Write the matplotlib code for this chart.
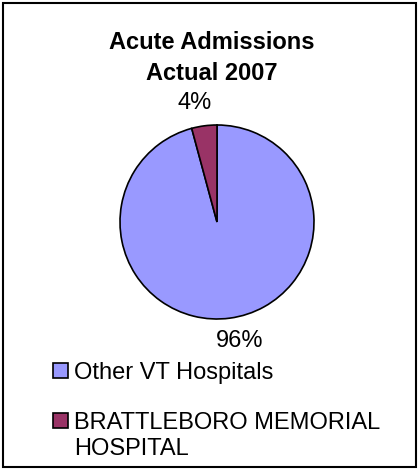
import matplotlib
matplotlib.use("Agg")
from matplotlib import pyplot as plt
from matplotlib.patches import Rectangle

plt.rcParams['font.family'] = ['Liberation Sans', 'DejaVu Sans']

# data
hospitals = ["Other VT Hospitals", "BRATTLEBORO MEMORIAL\nHOSPITAL"]
shares = [95.8, 4.2]
pct_labels = ["96%", "4%"]
colors = ["#9999ff", "#993366"]
title = "Acute Admissions\nActual 2007"

W, H = 419, 470
fig = plt.figure(figsize=(W / 100, H / 100), dpi=100)

# outer frame
fig.patches.append(Rectangle((3 / W, 3 / H), 413 / W, 464 / H, transform=fig.transFigure,
                             fill=False, edgecolor="black", linewidth=1.5))

# title, one text per line, baselines in pixels from top
for i, line in enumerate(title.split("\n")):
    fig.text(212 / W, 1 - (49 + 31 * i) / H, line, ha="center", va="baseline",
             fontsize=17, fontweight="bold")

cx, cy, r = 217, 222, 97
ax = fig.add_axes([(cx - r) / W, (H - cy - r) / H, 2 * r / W, 2 * r / H])
wedges, texts = ax.pie(shares, colors=colors, startangle=90, counterclock=False,
                       labels=pct_labels, labeldistance=1.24,
                       wedgeprops=dict(edgecolor="black", linewidth=1.2),
                       textprops=dict(fontsize=17))
for t in texts:
    x, y = t.get_position()
    t.set_position((x + (0.07 if x > 0 else -0.07), y))
    t.set_horizontalalignment("center")
    t.set_verticalalignment("center")
ax.set_xlim(-1, 1)
ax.set_ylim(-1, 1)
ax.set_aspect("equal")
ax.axis("off")

# legend drawn by hand, Excel style: marker beside the first line
row_base = [379, 429]
for w, label, base in zip(wedges, hospitals, row_base):
    fig.patches.append(Rectangle((53 / W, 1 - (base - 1) / H), 15 / W, 15 / H,
                                 transform=fig.transFigure, facecolor=w.get_facecolor(),
                                 edgecolor="black", linewidth=1.2))
    for j, line in enumerate(label.split("\n")):
        fig.text(74 / W, 1 - (base + 26 * j) / H, line, ha="left", va="baseline",
                 fontsize=17)

fig.savefig("out.png", dpi=100)
